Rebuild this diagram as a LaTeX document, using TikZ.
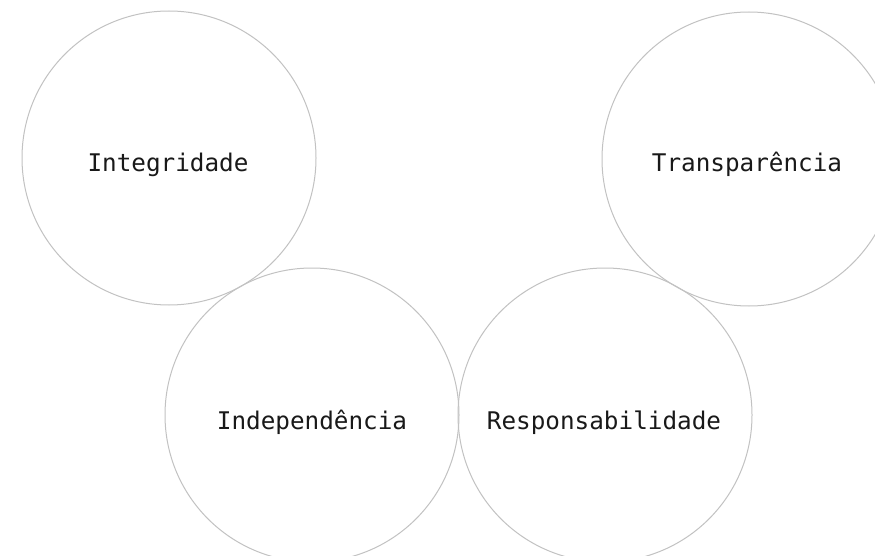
\documentclass[tikz,border=0pt]{standalone}
\usepackage{fontspec}
\setmonofont{DejaVu Sans Mono}
\begin{document}
\begin{tikzpicture}[x=1pt,y=-1pt,
  ring/.style={circle, draw=black!24, line width=1pt, minimum size=294pt, inner sep=0pt},
  lbl/.style={anchor=base, inner sep=0pt, font=\ttfamily\fontsize{24.3}{29}\selectfont, text=black!90}]
\useasboundingbox (0,0) rectangle (875,556);
\clip (0,0) rectangle (875,556);
\fill[white] (0,0) rectangle (875,556);
\node[ring] (c1) at (169,158) {};
\node[ring] (c2) at (749,159) {};
\node[ring] (c3) at (312,415) {};
\node[ring] (c4) at (605,415) {};
\node[lbl] (t1) at (168,172) {Integridade};
\node[lbl] (t2) at (747,172) {Transparência};
\node[lbl] (t3) at (312,429) {Independência};
\node[lbl] (t4) at (604,429) {Responsabilidade};
\end{tikzpicture}
\end{document}
